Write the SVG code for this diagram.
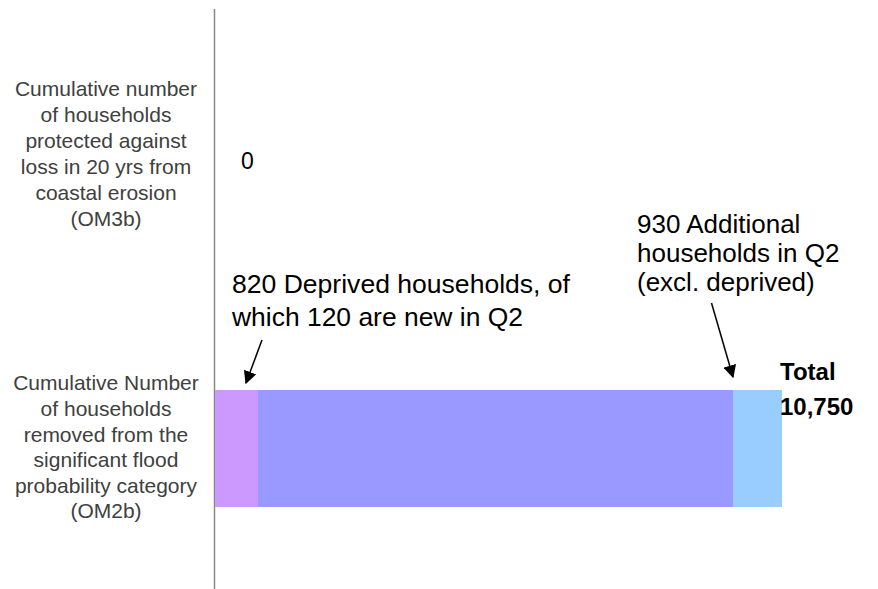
<svg xmlns="http://www.w3.org/2000/svg" width="878" height="589" viewBox="0 0 878 589">
<style>
.lbl{font-family:"Liberation Sans",Arial,sans-serif;font-size:21px;fill:#404040;text-anchor:middle}
.ann{font-family:"Liberation Sans",Arial,sans-serif;font-size:26px;fill:#000}
.tot{font-family:"Liberation Sans",Arial,sans-serif;font-size:24px;font-weight:bold;fill:#000}
.arr{stroke:#000;stroke-width:1.5;fill:none;marker-end:url(#ah)}
</style>
<defs>
<marker id="ah" viewBox="0 0 10 10" refX="9" refY="5" markerWidth="13" markerHeight="13" markerUnits="userSpaceOnUse" orient="auto">
<path d="M0,0 L10,5 L0,10 z" fill="#000"/>
</marker>
</defs>
<rect width="878" height="589" fill="#fff"/>
<g id="axis"><line x1="214.5" y1="9" x2="214.5" y2="589" stroke="#888" stroke-width="1.5"/></g>
<g id="label-om3b">
<text class="lbl" x="106" y="96">Cumulative number</text>
<text class="lbl" x="106" y="122">of households</text>
<text class="lbl" x="106" y="148">protected against</text>
<text class="lbl" x="106" y="174">loss in 20 yrs from</text>
<text class="lbl" x="106" y="200">coastal erosion</text>
<text class="lbl" x="106" y="226">(OM3b)</text>
</g>
<g id="value-om3b"><text x="241" y="169" style="font-family:'Liberation Sans',Arial,sans-serif;font-size:23px;fill:#000">0</text></g>
<g id="label-om2b">
<text class="lbl" x="106" y="390">Cumulative Number</text>
<text class="lbl" x="106" y="416">of households</text>
<text class="lbl" x="106" y="442">removed from the</text>
<text class="lbl" x="106" y="467">significant flood</text>
<text class="lbl" x="106" y="493">probability category</text>
<text class="lbl" x="106" y="518">(OM2b)</text>
</g>
<g id="bar-deprived"><rect x="215" y="390" width="43" height="117" fill="#CC99FF"/></g>
<g id="bar-main"><rect x="258" y="390" width="475" height="117" fill="#9999FF"/></g>
<g id="bar-additional"><rect x="733" y="390" width="49" height="117" fill="#99CCFF"/></g>
<g id="note-deprived">
<text class="ann" x="232" y="293" textLength="338" lengthAdjust="spacingAndGlyphs">820 Deprived households, of</text>
<text class="ann" x="232" y="326" textLength="291" lengthAdjust="spacingAndGlyphs">which 120 are new in Q2</text>
</g>
<g id="note-additional">
<text class="ann" x="637" y="233">930 Additional</text>
<text class="ann" x="637" y="262">households in Q2</text>
<text class="ann" x="637" y="291">(excl. deprived)</text>
</g>
<g id="total">
<text class="tot" x="780" y="380">Total</text>
<text class="tot" x="780" y="415">10,750</text>
</g>
<g id="connectors">
<line class="arr" x1="262" y1="340" x2="246" y2="383"/>
<line class="arr" x1="711.5" y1="303" x2="733" y2="377"/>
</g>
</svg>
